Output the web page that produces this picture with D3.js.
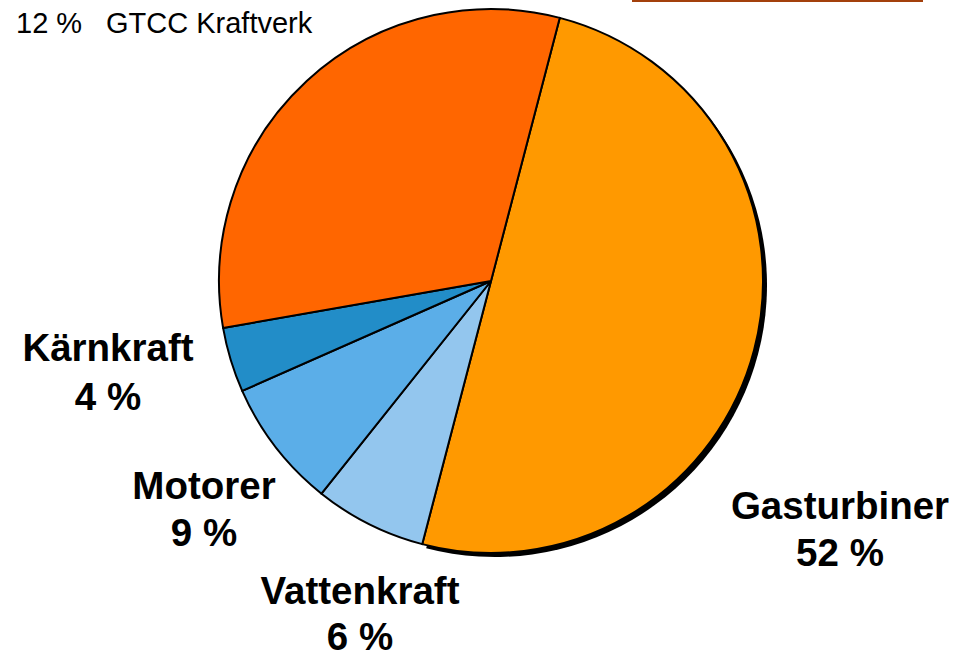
<!DOCTYPE html>
<html>
<head>
<meta charset="utf-8">
<script src="https://cdn.jsdelivr.net/npm/d3@7"></script>
<style>
body{margin:0;background:#fff;}
svg{display:block;}
</style>
</head>
<body>
<script>
var width = 977;
var height = 657;

// slices, clockwise from the top boundary
var categories = ['Gasturbiner','Vattenkraft','Motorer','Kärnkraft','GTCC Kraftverk'];
var shares = [50, 6.64, 7.67, 3.86, 31.83];   // slice sizes as drawn
var labels = ['52 %','6 %','9 %','4 %','12 %']; // printed values
var colors = ['#FF9900','#93C6EE','#5BAEE8','#228DC8','#FF6600'];

var cx = 491, cy = 281, r = 272;

var canvas = d3.select('body').append('svg')
	.attr('width',width)
	.attr('height',height);

// thin brown rule at the top right
canvas.append('rect')
	.attr('x',632).attr('y',0)
	.attr('width',291).attr('height',2)
	.attr('fill','#A3400C');

var pie = d3.pie().sort(null)
	.startAngle(14.65*Math.PI/180)
	.endAngle(14.65*Math.PI/180 + 2*Math.PI);
var arc = d3.arc().innerRadius(0).outerRadius(r);
var arcs = pie(shares);

var g = canvas.append('g').attr('transform','translate('+cx+','+cy+')');

// shadow under the big slice
g.append('path')
	.attr('d',arc(arcs[0]))
	.attr('transform','translate(4,4)')
	.attr('fill','#000');

g.selectAll('path.slice')
	.data(arcs)
	.enter()
	.append('path')
	.attr('class','slice')
	.attr('d',arc)
	.attr('fill',(d,i)=>colors[i])
	.attr('stroke','#000')
	.attr('stroke-width',2)
	.attr('stroke-linejoin','round');

// labels
var labelPos = [[840,519,566],[360,604,650],[204,499,546],[108,361,410]];
labelPos.forEach(function(p,i){
	var t = canvas.append('text')
		.attr('text-anchor','middle')
		.attr('font-family','"Liberation Sans", Arial, sans-serif')
		.attr('font-weight','bold')
		.attr('font-size',38.5)
		.attr('fill','#000');
	t.append('tspan').attr('x',p[0]).attr('y',p[1]).text(categories[i]);
	t.append('tspan').attr('x',p[0]).attr('y',p[2]).text(labels[i]);
});

var topLabel = canvas.append('text')
	.attr('y',33)
	.attr('font-family','"Liberation Sans", Arial, sans-serif')
	.attr('font-size',29)
	.attr('fill','#000');
topLabel.append('tspan').attr('x',16).text(labels[4]);
topLabel.append('tspan').attr('x',106).text(categories[4]);
</script>
</body>
</html>
